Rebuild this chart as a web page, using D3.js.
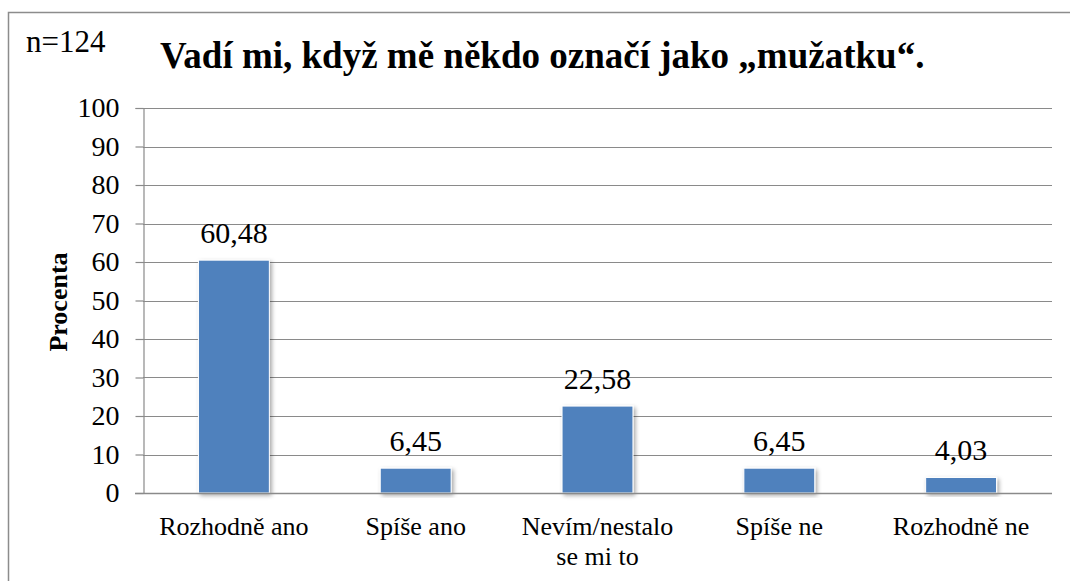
<!DOCTYPE html>
<html>
<head>
<meta charset="utf-8">
<script src="https://cdn.jsdelivr.net/npm/d3@7"></script>
<style>
  body { margin: 0; background: #fff; }
  svg { display: block; font-family: 'Liberation Serif', 'Times New Roman', serif; }
</style>
</head>
<body>
<div id="chart"></div>
<script>
const categories = [['Rozhodně ano'], ['Spíše ano'], ['Nevím/nestalo', 'se mi to'], ['Spíše ne'], ['Rozhodně ne']];
const values = [60.48, 6.45, 22.58, 6.45, 4.03];
const yTicks = [0, 10, 20, 30, 40, 50, 60, 70, 80, 90, 100];
const titleText = 'Vadí mi, když mě někdo označí jako „mužatku“.';
const sampleText = 'n=124';
const yLabel = 'Procenta';

const W = 1070, H = 581;
const margin = { left: 143, right: 18, top: 108, bottom: 88 };
const serif = "'Liberation Serif', 'Times New Roman', serif";

const svg = d3.select('#chart').append('svg')
  .attr('width', W).attr('height', H);

// bar shadow
const defs = svg.append('defs');
const f = defs.append('filter').attr('id', 'shadow')
  .attr('x', '-20%').attr('y', '-20%').attr('width', '140%').attr('height', '140%');
f.append('feDropShadow').attr('dx', 2).attr('dy', 2).attr('stdDeviation', 2)
  .attr('flood-color', '#000').attr('flood-opacity', 0.35);

// outer frame (cut at right/bottom)
svg.append('rect')
  .attr('x', 8.5).attr('y', 12.5).attr('width', W).attr('height', H)
  .attr('fill', 'none').attr('stroke', '#8c8c8c').attr('stroke-width', 1.5);

const x = d3.scaleBand()
  .domain(categories.map((d, i) => i))
  .range([margin.left, W - margin.right])
  .paddingInner(0.61).paddingOuter(0.305);

const y = d3.scaleLinear().domain([0, 100]).range([H - margin.bottom, margin.top]);

// gridlines
svg.append('g')
  .selectAll('line').data(yTicks.filter(d => d > 0)).join('line')
  .attr('x1', margin.left).attr('x2', W - margin.right)
  .attr('y1', d => Math.round(y(d)) + 0.5).attr('y2', d => Math.round(y(d)) + 0.5)
  .attr('stroke', '#8a8a8a').attr('stroke-width', 1.2);

// y axis
const yAxis = svg.append('g')
  .attr('transform', `translate(${margin.left + 0.5},0)`)
  .call(d3.axisLeft(y).tickValues(yTicks).tickSize(8).tickPadding(16).tickFormat(d3.format('d')));
yAxis.attr('font-family', serif);
yAxis.select('.domain').attr('stroke', '#8a8a8a').attr('stroke-width', 1.2);
yAxis.selectAll('.tick line').attr('stroke', '#8a8a8a').attr('stroke-width', 1.2);
yAxis.selectAll('.tick text')
  .style('font-family', serif)
  .attr('font-size', 28).attr('fill', '#000');

// bars
svg.append('g')
  .selectAll('rect').data(values).join('rect')
  .attr('x', (d, i) => x(i))
  .attr('y', d => y(d))
  .attr('width', x.bandwidth())
  .attr('height', d => y(0) - y(d))
  .attr('fill', '#4f81bd')
  .attr('stroke', '#fff').attr('stroke-width', 1)
  .attr('filter', 'url(#shadow)');

// x axis baseline
svg.append('line')
  .attr('x1', margin.left - 8).attr('x2', W - margin.right)
  .attr('y1', Math.round(y(0)) + 0.5).attr('y2', Math.round(y(0)) + 0.5)
  .attr('stroke', '#8a8a8a').attr('stroke-width', 1.5);

// data labels
svg.append('g')
  .selectAll('text').data(values).join('text')
  .attr('x', (d, i) => x(i) + x.bandwidth() / 2)
  .attr('y', d => y(d) - 17)
  .attr('text-anchor', 'middle')
  .style('font-family', serif)
  .attr('font-size', 30)
  .text(d => d3.format('.2f')(d).replace('.', ','));

// category labels
const cat = svg.append('g')
  .selectAll('text').data(categories).join('text')
  .attr('x', (d, i) => x(i) + x.bandwidth() / 2)
  .attr('y', 535)
  .attr('text-anchor', 'middle')
  .style('font-family', serif)
  .attr('font-size', 26);
cat.selectAll('tspan').data(d => d).join('tspan')
  .attr('x', function () { return d3.select(this.parentNode).attr('x'); })
  .attr('dy', (d, i) => i === 0 ? 0 : 30)
  .text(d => d);

// y label
svg.append('text')
  .attr('transform', 'translate(67,302) rotate(-90)')
  .attr('text-anchor', 'middle')
  .style('font-family', serif)
  .attr('font-size', 26).attr('font-weight', 'bold')
  .text(yLabel);

// n and title
svg.append('text')
  .attr('x', 26).attr('y', 52)
  .style('font-family', serif)
  .attr('font-size', 31)
  .text(sampleText);

svg.append('text')
  .attr('x', 160).attr('y', 68)
  .style('font-family', serif)
  .attr('font-size', 37).attr('font-weight', 'bold')
  .text(titleText);
</script>
</body>
</html>
